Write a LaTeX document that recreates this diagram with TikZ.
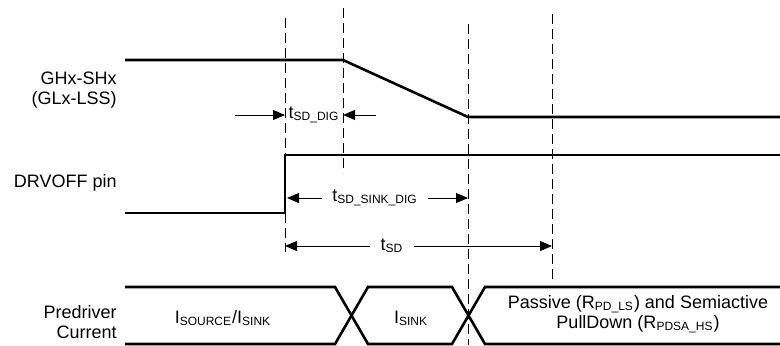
\documentclass[tikz,border=0pt]{standalone}
\usepackage{fontspec}
\setmainfont{Liberation Sans}
\usetikzlibrary{arrows.meta,calc}
\newcommand{\lo}[1]{\textsubscript{#1}}

\begin{document}
\begin{tikzpicture}[
  x=0.5pt, y=-0.5pt,
  font=\fontsize{9}{10}\selectfont,
  signal/.style={line width=1.3pt, line join=miter},
  guide/.style={line width=0.5pt, dash pattern=on 5pt off 2.5pt},
  dim/.style={line width=0.5pt, -{Triangle[length=6pt, width=5pt]}},
  lbl/.style={anchor=east, align=right, inner sep=0pt},
  txt/.style={align=center, inner sep=2pt},
]
\useasboundingbox (0,0) rectangle (780,345);

% time marks
\coordinate (m1) at (285,0);
\coordinate (m2) at (343,0);
\coordinate (m3) at (468,0);
\coordinate (m4) at (552,0);

% dashed guides
\draw[guide] (285,18) -- (285,252);
\draw[guide] (343,8) -- (343,173);
\draw[guide] (468,24) -- (468,345);
\draw[guide] (552,14) -- (552,280);

% signal names
\node[lbl] (ghx) at (117,90) {GHx-SHx\\(GLx-LSS)};
\node[lbl] (drv) at (117,183) {DRVOFF pin};
\node[lbl] (pre) at (117,322) {Predriver\\Current};

% waveforms
\draw[signal] (125,60) -- (343,60) -- (468,117) -- (780,117);
\draw[signal] (125,213) -- (285,213) -- (285,155) -- (780,155);
\draw[signal] (125,287) -- (335,287) -- (368,344) -- (452,344) -- (485,287) -- (780,287);
\draw[signal] (125,344) -- (335,344) -- (368,287) -- (452,287) -- (485,344) -- (780,344);

% current phases
\node[txt] (isrc) at (223,318) {I\lo{SOURCE}/I\lo{SINK}};
\node[txt] (isink) at (411,318) {I\lo{SINK}};
\node[txt] (ipass) at (638,314) {Passive (R\lo{PD\_LS}) and Semiactive\\PullDown (R\lo{PDSA\_HS})};

% timing
\node[txt] (tdig) at (314,115) {t\lo{SD\_DIG}};
\coordinate (tdigL) at (235,115);
\coordinate (tdigR) at (376,115);
\draw[dim] (tdigL) -- (m1 |- tdig);
\draw[dim] (tdigR) -- (m2 |- tdig);

\node[txt, inner sep=5pt] (tsink) at (375,198) {t\lo{SD\_SINK\_DIG}};
\draw[dim] (tsink.west) -- ($(m1 |- tsink)+(2,0)$);
\draw[dim] (tsink.east) -- (m3 |- tsink);

\node[txt, inner sep=5pt] (tsd) at (392,246) {t\lo{SD}};
\draw[dim] (tsd.west) -- (m1 |- tsd);
\draw[dim] (tsd.east) -- (m4 |- tsd);

\end{tikzpicture}
\end{document}
